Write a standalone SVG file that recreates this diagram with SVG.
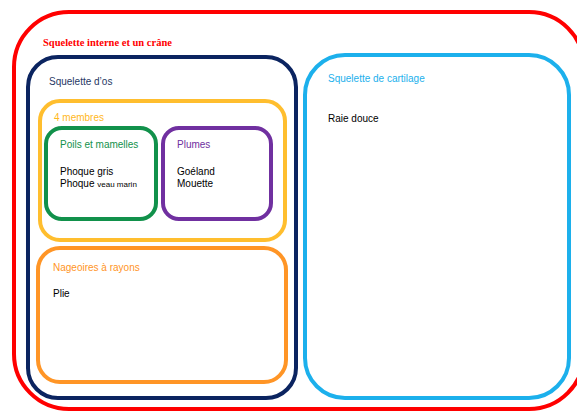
<svg xmlns="http://www.w3.org/2000/svg" width="577" height="412" viewBox="0 0 577 412">
<style>
.box{fill:none;stroke-width:4}
.t{font-family:"Liberation Sans",Arial,sans-serif;font-size:10px}
.b{fill:#000}
</style>
<rect width="577" height="412" fill="#fff"/>
<g id="crane">
<rect class="box" x="14" y="12" width="570" height="397" rx="55" stroke="#FF0000"/>
<text x="43" y="46" font-family="Liberation Serif,'Times New Roman',serif" font-weight="bold" font-size="10.5" fill="#FF0000">Squelette interne et un crâne</text>
</g>
<g id="os">
<rect class="box" x="28" y="57" width="268" height="341" rx="30" stroke="#0B2460"/>
<text class="t" x="49" y="85" fill="#1F3864">Squelette d’os</text>
</g>
<g id="membres">
<rect class="box" x="40" y="101" width="245" height="139" rx="20" stroke="#FFBE2E"/>
<text class="t" x="54" y="121" fill="#FFB81C">4 membres</text>
</g>
<g id="poils">
<rect class="box" x="46" y="128" width="110" height="91" rx="16" stroke="#11914B"/>
<text class="t" x="60" y="148" fill="#11914B">Poils et mamelles</text>
<text class="t b" x="60" y="175">Phoque gris</text>
<text class="t b" x="60" y="187">Phoque <tspan font-size="8">veau marin</tspan></text>
</g>
<g id="plumes">
<rect class="box" x="163" y="128" width="108" height="91" rx="16" stroke="#7030A0"/>
<text class="t" x="177" y="148" fill="#7030A0">Plumes</text>
<text class="t b" x="177" y="175">Goéland</text>
<text class="t b" x="177" y="187">Mouette</text>
</g>
<g id="nageoires">
<rect class="box" x="38" y="248" width="248" height="134" rx="22" stroke="#FF9526"/>
<text class="t" x="53" y="271" fill="#FF9526">Nageoires à rayons</text>
<text class="t b" x="53" y="297">Plie</text>
</g>
<g id="cartilage">
<rect class="box" x="305" y="55" width="264" height="343" rx="40" stroke="#1CB0EC"/>
<text class="t" x="328" y="82" fill="#1CB0EC">Squelette de cartilage</text>
<text class="t b" x="328" y="122">Raie douce</text>
</g>
<g id="connectors"></g>
</svg>
